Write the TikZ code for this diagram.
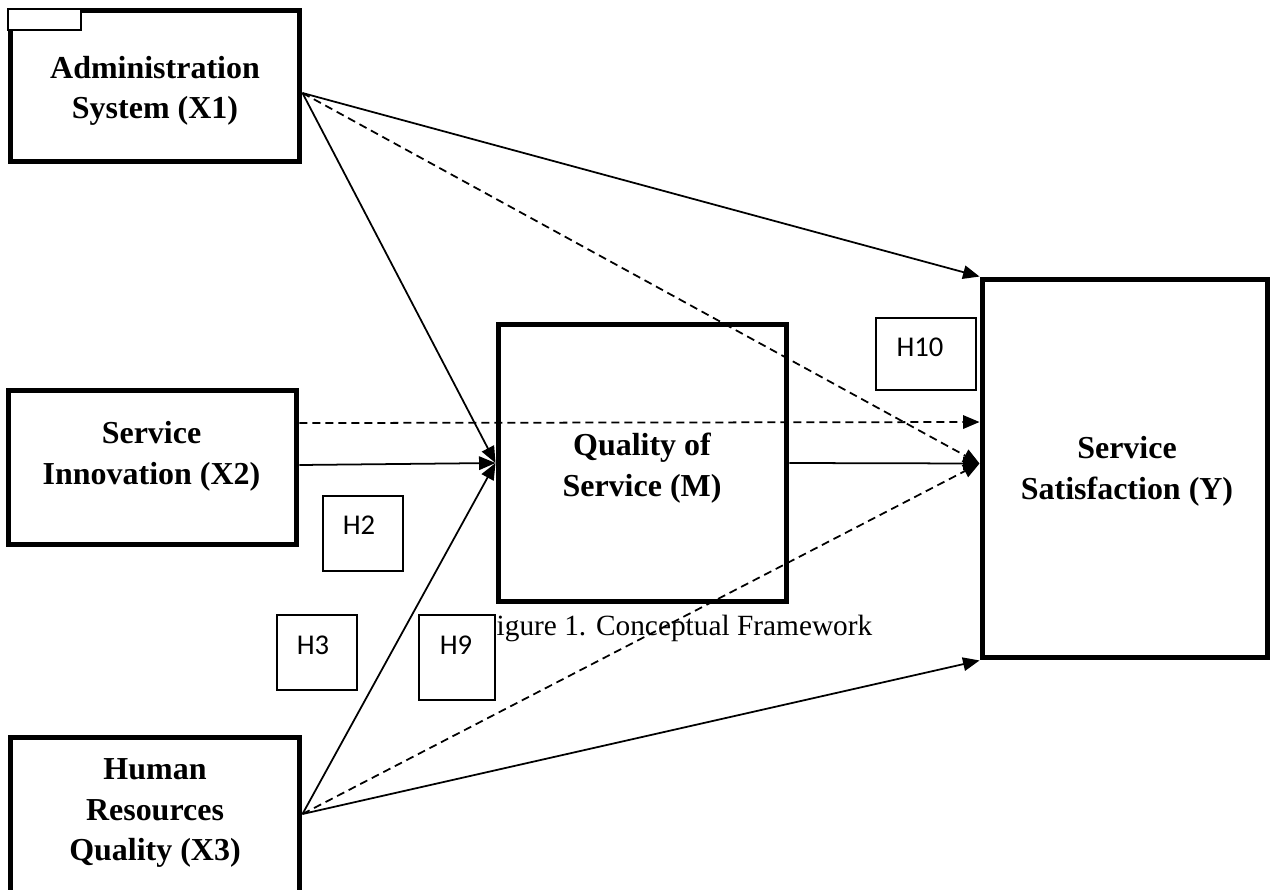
\documentclass[tikz,border=0pt]{standalone}
\usepackage{fontspec}
\setmainfont{Liberation Serif}
\newfontfamily\hfont{Carlito}
\usetikzlibrary{arrows.meta}
\tikzset{
 bigbox/.style={draw, line width=0.1cm, rectangle, inner sep=0pt},
 boxtext/.style={font=\bfseries\fontsize{18.2}{23}\selectfont, align=center, inner sep=0pt},
 hbox/.style={draw, line width=0.6pt, fill=white, inner sep=0pt},
 htext/.style={font=\hfont\fontsize{16.3}{19}\selectfont, inner sep=0pt},
 link/.style={line width=1pt, -{Triangle[length=0.33cm,width=0.27cm]}},
 dlink/.style={link, dash pattern=on 0.16cm off 0.1cm},
}
\begin{document}
\begin{tikzpicture}[x=0.02cm,y=-0.02cm]
\useasboundingbox (0,0) rectangle (1270,889);
\clip (0,0) rectangle (1270,889);
% main boxes
\node[bigbox, minimum width=5.8cm, minimum height=3.04cm] (X1) at (155,86) {};
\node[bigbox, minimum width=5.78cm, minimum height=3.1cm] (X2) at (152.5,467.5) {};
\node[bigbox, minimum width=5.8cm, minimum height=4.52cm] (X3) at (155,850) {};
\node[bigbox, minimum width=5.78cm, minimum height=5.56cm] (M) at (642.5,463) {};
\node[bigbox, minimum width=5.72cm, minimum height=7.58cm] (Y) at (1125,468.5) {};
% texts
\node[boxtext] (tX1) at (155,91) {Administration\\System (X1)};
\node[boxtext] (tX2) at (151.5,456.5) {Service\\Innovation (X2)};
\node[boxtext] (tX3) at (155,813) {Human\\Resources\\Quality (X3)};
\node[boxtext] (tM) at (642,468) {Quality of\\Service (M)};
\node[boxtext] (tY) at (1127,471.5) {Service\\Satisfaction (Y)};
% caption
\node[font=\fontsize{16.7}{20}\selectfont, anchor=base west, inner sep=0pt] (cap) at (480,635) {Figure 1. Conceptual Framework};
% connectors
\draw[link] ([yshift=-0.14cm]X1.east) -- (Y.north west);
\draw[dlink] ([yshift=-0.14cm]X1.east) -- ([yshift=0.1cm]Y.west);
\draw[link] ([yshift=-0.14cm]X1.east) -- (M.west);
\draw[dlink] ([yshift=0.89cm]X2.east) -- ([yshift=0.93cm]Y.west);
\draw[link] ([yshift=0.05cm]X2.east) -- (M.west);
\draw[link] (M.east) -- ([yshift=0.1cm]Y.west);
\draw[link] ([yshift=0.72cm]X3.east) -- (M.west);
\draw[dlink] ([yshift=0.72cm]X3.east) -- ([yshift=0.1cm]Y.west);
\draw[link] ([yshift=0.72cm]X3.east) -- (Y.south west);
% hypothesis labels
\node[hbox, minimum width=2cm, minimum height=1.44cm] (H10) at (926,354) {};
\node[htext] (tH10) at (920,347) {H10};
\node[hbox, minimum width=1.6cm, minimum height=1.5cm] (H2) at (363,533.5) {};
\node[htext] (tH2) at (359,525) {H2};
\node[hbox, minimum width=1.6cm, minimum height=1.5cm] (H3) at (317,652.5) {};
\node[htext] (tH3) at (313,645) {H3};
\node[hbox, minimum width=1.52cm, minimum height=1.7cm] (H9) at (457,657.5) {};
\node[htext] (tH9) at (456,645) {H9};
% small tag at top-left
\node[draw, line width=0.6pt, fill=white, minimum width=1.46cm, minimum height=0.42cm, inner sep=0pt] (tag) at (44.5,19.5) {};
\end{tikzpicture}
\end{document}
